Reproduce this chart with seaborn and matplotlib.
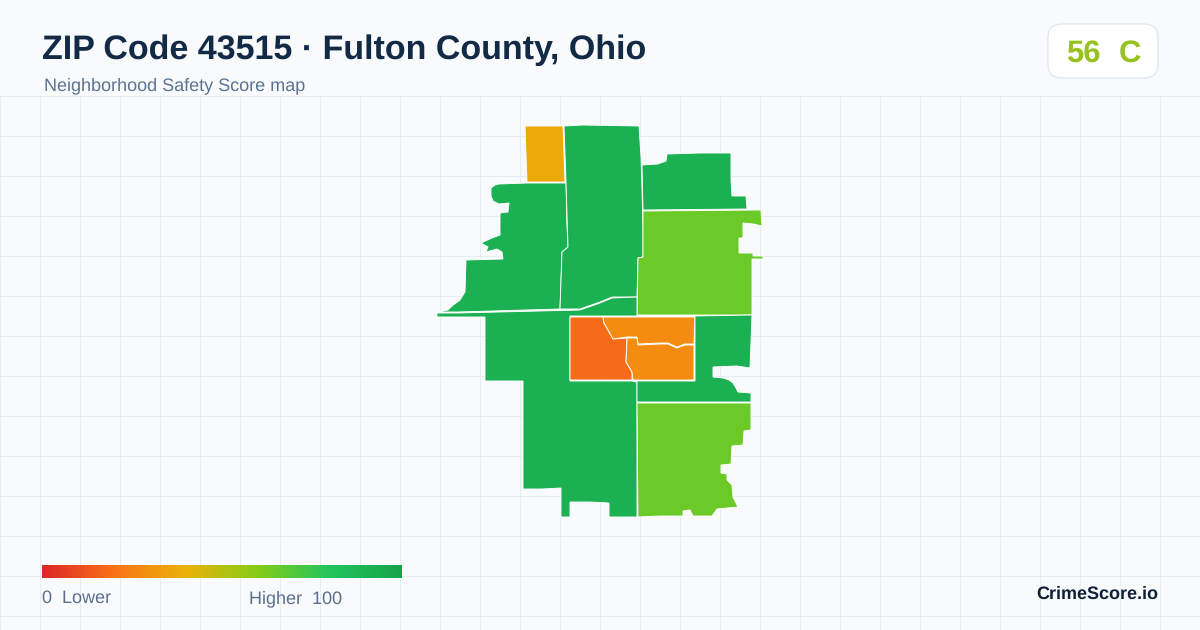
import numpy as np
import matplotlib.pyplot as plt
from matplotlib.patches import FancyBboxPatch
import seaborn as sns

W, H = 1200, 630

# zone outlines
north_tip = [(525,126),(563,126),(565,182),(527,182)]
west = [(527,183),(566,183),(567,227),(568,247),(562,252),(560,309),(458,312),(437,312),(448,310),
        (452,306),(460,300),(465,292),(466,260),(503,259),(502,252),(497,249),(486,252),(488,247),(481,243),
        (492,238),(500,235),(500,213),(508,212),(509,203),(499,204),(493,201),(491,196),(491,188),(495,185),(499,184)]
center_north = [(564,126),(583,125),(639,126),(641,157),(642,188),(643,228),(643,257),(638,258),
                (637,297),(612,297),(600,302),(580,309),(560,309),(562,252),(568,247),(566,182)]
northeast = [(642,165),(658,164),(666,161),(667,154),(700,153),(731,153),(731,180),(732,196),
             (746,196),(747,209),(643,210)]
east_lime = [(643,211),(761,210),(762,226),(753,224),(743,223),(743,238),(739,238),(739,253),
             (753,253),(753,256),(763,256),(763,259),(752,259),(752,315),(695,315),(637,315),
             (638,258),(643,257),(643,228)]
southwest = [(437,313),(458,313),(580,310),(600,303),(612,298),(637,297),(637,316),(570,316),
             (570,381),(632,381),(637,382),(637,517),(609,517),(609,503),(590,502),(570,502),
             (570,517),(561,517),(561,488),(542,489),(523,489),(523,381),(485,381),(485,317),(437,317)]
center_red = [(570,317),(603,317),(604,323),(613,339),(627,338),(626,362),(632,372),(632,380),(570,380)]
center_north_orange = [(603,317),(695,317),(694,344),(685,344),(677,347),(668,343),(660,343),
                       (638,344),(637,337),(627,337),(613,339),(604,323)]
center_south_orange = [(627,338),(637,338),(638,345),(660,344),(668,344),(677,348),(685,345),
                       (694,345),(694,380),(633,380),(632,372),(626,362)]
east_green = [(695,316),(752,315),(750,368),(737,366),(713,367),(713,377),(723,378),(729,380),(733,383),
              (736,388),(738,392),(751,393),(751,402),(637,402),(637,382),(632,381),(695,381)]
southeast = [(637,403),(751,403),(751,430),(744,431),(743,445),(732,446),(731,464),(721,465),
             (721,473),(727,474),(727,480),(732,485),(733,497),(738,507),(717,509),(712,516),
             (693,516),(690,510),(683,511),(683,516),(660,516),(638,517)]

zones = [north_tip, west, center_north, northeast, east_lime, southwest,
         center_red, center_north_orange, center_south_orange, east_green, southeast]
scores = [37, 92, 92, 92, 65, 92, 18, 28, 28, 92, 65]

score_colors = ["#dc2626", "#f97316", "#eab308", "#84cc16", "#22c55e", "#16a34a"]
ramp = np.linspace(0, 100, 361).reshape(1, -1)

sns.set_theme(style="white")
plt.rcParams["font.family"] = ["Liberation Sans", "DejaVu Sans"]
plt.rcParams["text.hinting"] = "no_hinting"
plt.rcParams["text.hinting_factor"] = 1

cmap = sns.blend_palette(score_colors, as_cmap=True)

fig = plt.figure(figsize=(W / 100, H / 100), dpi=100, facecolor="#f8fafc")
ax = fig.add_axes([0, 0, 1, 1])
ax.set_xlim(0, W)
ax.set_ylim(H, 0)
ax.axis("off")

# background grid only below the header
for x in range(0, W + 1, 40):
    ax.plot([x, x], [96, H], color="#e5edf2", lw=0.72, zorder=1)
for y in range(96, H, 40):
    ax.plot([0, W], [y, y], color="#e5edf2", lw=0.72, zorder=1)

for zone, score in zip(zones, scores):
    xs, ys = zip(*zone)
    ax.fill(xs, ys, facecolor=cmap(score / 100), edgecolor="white", lw=0.65, zorder=2)

ax.text(42, 59, "ZIP Code 43515 · Fulton County, Ohio", fontsize=24.48, fontweight="bold",
        color="#132a46", va="baseline")
ax.text(44, 90, "Neighborhood Safety Score map", fontsize=12.96, color="#5b7391", va="baseline")

badge = FancyBboxPatch((1060, 36), 86, 30, boxstyle="round,pad=12,rounding_size=14",
                       facecolor="white", edgecolor="#dde4ec", lw=0.8, zorder=3)
ax.add_patch(badge)
ax.text(1083, 62, "56", fontsize=22.5, fontweight="bold", color="#97c21c", ha="center", va="baseline", zorder=4)
ax.text(1129.5, 62, "C", fontsize=22.5, fontweight="bold", color="#97c21c", ha="center", va="baseline", zorder=4)

ax.text(42, 603, "0  Lower", fontsize=12.96, color="#5b6f8c", va="baseline")
ax.text(249, 603, "Higher  100", fontsize=12.96, color="#5b6f8c", va="baseline")
ax.text(1158, 599, "CrimeScore.io", fontsize=13, fontweight="bold", color="#0f2036", ha="right", va="baseline")

cax = fig.add_axes([42 / W, 1 - 578 / H, 360 / W, 13 / H])
sns.heatmap(ramp, ax=cax, cmap=cmap, vmin=0, vmax=100, cbar=False, xticklabels=False, yticklabels=False)

fig.savefig("out.png", dpi=100, facecolor=fig.get_facecolor())
